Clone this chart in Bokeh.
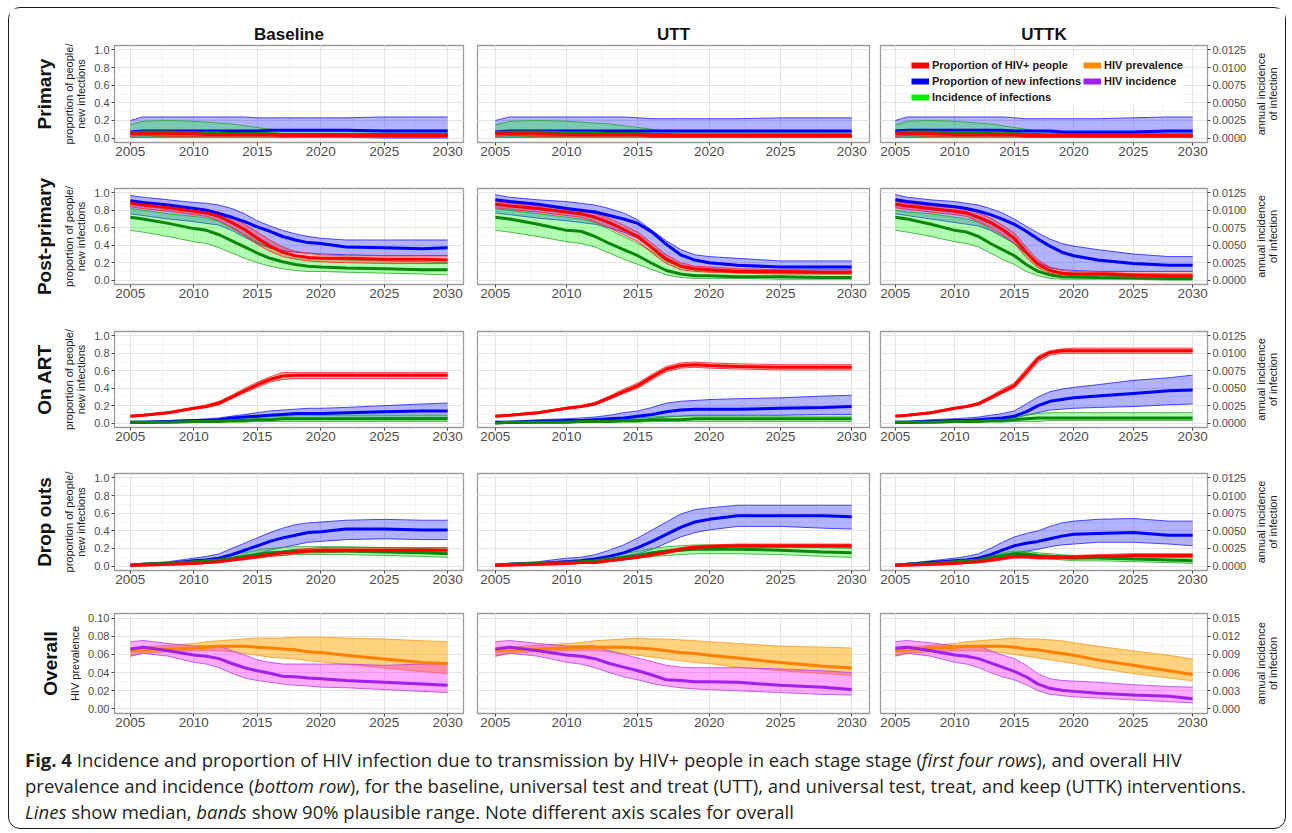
import math
from bokeh.plotting import figure
from bokeh.models import (Range1d, LinearAxis, Title, Legend, LegendItem, Div, Label,
                          FixedTicker, PrintfTickFormatter, Grid)
from bokeh.layouts import column, row
from bokeh.embed import file_html
from bokeh.resources import INLINE

# ---------------------------------------------------------------- data
years = [2005, 2006, 2008, 2010, 2011, 2012, 2013, 2014, 2015, 2016, 2017, 2018, 2019, 2020, 2022, 2025, 2028, 2030]

scenarios = ["Baseline", "UTT", "UTTK"]
stages = ["Primary", "Post-primary", "On ART", "Drop outs", "Overall"]

year_ticks = [2005, 2010, 2015, 2020, 2025, 2030]
year_minor = [2007.5, 2012.5, 2017.5, 2022.5, 2027.5]
prop_ticks = [0.0, 0.2, 0.4, 0.6, 0.8, 1.0]
prop_minor = [0.1, 0.3, 0.5, 0.7, 0.9]
inc_ticks = [0.0, 0.0025, 0.005, 0.0075, 0.01, 0.0125]
prev_ticks = [0.0, 0.02, 0.04, 0.06, 0.08, 0.10]
prev_minor = [0.01, 0.03, 0.05, 0.07, 0.09]
ov_inc_ticks = [0.0, 0.003, 0.006, 0.009, 0.012, 0.015]

# --- Primary: proportion of HIV+ people (red), proportion of new infections (blue), incidence (green)
pri_base_red_lo  = [0.02,0.03,0.02,0.02,0.02,0.02,0.02,0.02,0.02,0.02,0.02,0.02,0.02,0.02,0.02,0.01,0.01,0.01]
pri_base_red_med = [0.05,0.05,0.05,0.05,0.04,0.04,0.04,0.04,0.04,0.04,0.03,0.03,0.03,0.03,0.03,0.03,0.03,0.03]
pri_base_red_hi  = [0.07,0.07,0.07,0.06,0.06,0.06,0.06,0.06,0.05,0.05,0.05,0.05,0.05,0.05,0.05,0.05,0.05,0.05]
pri_base_blue_lo  = [0.01,0.01,0.01,0.01,0.01,0.01,0.01,0.01,0.01,0.01,0.01,0.01,0.01,0.01,0.01,0.0,0.0,0.0]
pri_base_blue_med = [0.07,0.08,0.08,0.08,0.08,0.08,0.08,0.08,0.08,0.09,0.09,0.09,0.09,0.09,0.09,0.08,0.08,0.08]
pri_base_blue_hi  = [0.20,0.24,0.24,0.24,0.24,0.24,0.24,0.24,0.23,0.23,0.23,0.23,0.23,0.23,0.23,0.24,0.24,0.24]
pri_base_inc_lo  = [0.00013,0.00013,0.00025,0.00025,0.00025,0.00025,0.00025,0.00025,0.00025,0.00025,0.00013,0.00013,0.00013,0.00013,0.00013,0.00013,0.00013,0.00013]
pri_base_inc_med = [0.00075,0.00088,0.00088,0.00075,0.00075,0.00075,0.00063,0.00063,0.00063,0.00063,0.0005,0.0005,0.0005,0.0005,0.0005,0.0005,0.0005,0.0005]
pri_base_inc_hi  = [0.00188,0.00238,0.0025,0.00238,0.00225,0.00213,0.002,0.00175,0.0015,0.00125,0.00113,0.00113,0.00113,0.00113,0.00113,0.00113,0.00113,0.00113]

pri_utt_red_lo  = [0.02,0.03,0.02,0.02,0.02,0.02,0.02,0.02,0.02,0.01,0.01,0.01,0.01,0.01,0.01,0.01,0.01,0.01]
pri_utt_red_med = [0.05,0.05,0.05,0.04,0.04,0.04,0.04,0.04,0.04,0.03,0.03,0.03,0.03,0.03,0.03,0.03,0.03,0.03]
pri_utt_red_hi  = [0.07,0.07,0.07,0.06,0.06,0.06,0.06,0.06,0.06,0.05,0.05,0.05,0.05,0.05,0.05,0.05,0.05,0.05]
pri_utt_blue_lo  = [0.01,0.01,0.01,0.01,0.01,0.01,0.01,0.01,0.01,0.01,0.01,0.01,0.01,0.01,0.01,0.01,0.01,0.01]
pri_utt_blue_med = [0.07,0.08,0.08,0.08,0.08,0.08,0.08,0.08,0.08,0.08,0.08,0.08,0.08,0.08,0.08,0.08,0.08,0.08]
pri_utt_blue_hi  = [0.20,0.24,0.24,0.24,0.24,0.24,0.24,0.24,0.23,0.22,0.22,0.22,0.22,0.22,0.22,0.23,0.23,0.23]
pri_utt_inc_lo  = [0.00013,0.00013,0.00025,0.00025,0.00025,0.00025,0.00025,0.00025,0.00025,0.00013,0.00013,0.00013,0.00013,0.00013,0.00013,0.00013,0.00013,0.00013]
pri_utt_inc_med = [0.00075,0.00088,0.00088,0.00075,0.00075,0.00075,0.00063,0.00063,0.00063,0.0005,0.0005,0.00038,0.00038,0.00038,0.00038,0.00038,0.00038,0.00038]
pri_utt_inc_hi  = [0.00188,0.00238,0.0025,0.00238,0.00225,0.00213,0.002,0.00175,0.0015,0.00125,0.001,0.00088,0.00088,0.00088,0.00088,0.00088,0.00088,0.00088]

pri_uttk_red_lo  = [0.02,0.03,0.02,0.02,0.02,0.02,0.02,0.02,0.02,0.01,0.01,0.01,0.01,0.01,0.01,0.01,0.01,0.01]
pri_uttk_red_med = [0.05,0.05,0.05,0.04,0.04,0.04,0.04,0.04,0.04,0.03,0.03,0.03,0.03,0.03,0.03,0.03,0.03,0.03]
pri_uttk_red_hi  = [0.07,0.07,0.07,0.06,0.06,0.06,0.06,0.06,0.06,0.05,0.05,0.05,0.05,0.05,0.05,0.05,0.05,0.05]
pri_uttk_blue_lo  = [0.01,0.01,0.01,0.01,0.01,0.01,0.01,0.01,0.01,0.01,0.01,0.01,0.01,0.01,0.01,0.01,0.01,0.01]
pri_uttk_blue_med = [0.08,0.09,0.09,0.09,0.09,0.09,0.09,0.09,0.08,0.08,0.08,0.08,0.07,0.07,0.07,0.07,0.08,0.08]
pri_uttk_blue_hi  = [0.20,0.24,0.24,0.24,0.24,0.24,0.24,0.24,0.23,0.22,0.22,0.22,0.22,0.22,0.22,0.23,0.24,0.24]
pri_uttk_inc_lo  = [0.00013,0.00013,0.00025,0.00025,0.00025,0.00025,0.00025,0.00025,0.00025,0.00013,0.00013,0.00013,0.00013,0.00013,0.00013,0.00013,0.00013,0.00013]
pri_uttk_inc_med = [0.00075,0.00088,0.00088,0.00075,0.00075,0.00075,0.00063,0.00063,0.00063,0.0005,0.0005,0.00038,0.00038,0.00038,0.00038,0.00038,0.00038,0.00038]
pri_uttk_inc_hi  = [0.00188,0.00238,0.0025,0.00238,0.00225,0.00213,0.002,0.00175,0.0015,0.00125,0.001,0.00075,0.00075,0.00063,0.00063,0.00063,0.00063,0.00063]

# --- Post-primary
pp_base_red_lo  = [0.84,0.82,0.79,0.75,0.73,0.68,0.60,0.51,0.41,0.33,0.27,0.24,0.22,0.21,0.20,0.19,0.19,0.19]
pp_base_red_med = [0.88,0.86,0.83,0.79,0.77,0.73,0.66,0.58,0.48,0.39,0.32,0.28,0.26,0.25,0.25,0.24,0.24,0.23]
pp_base_red_hi  = [0.91,0.89,0.86,0.83,0.81,0.78,0.72,0.64,0.55,0.46,0.38,0.33,0.31,0.29,0.28,0.28,0.28,0.28]
pp_base_blue_lo  = [0.76,0.74,0.70,0.67,0.65,0.63,0.57,0.49,0.42,0.37,0.34,0.32,0.31,0.30,0.29,0.28,0.28,0.28]
pp_base_blue_med = [0.91,0.89,0.86,0.82,0.80,0.76,0.72,0.67,0.61,0.56,0.50,0.46,0.43,0.42,0.38,0.37,0.36,0.37]
pp_base_blue_hi  = [0.97,0.95,0.92,0.89,0.88,0.86,0.82,0.76,0.68,0.62,0.57,0.53,0.50,0.48,0.46,0.46,0.46,0.46]
pp_base_inc_lo  = [0.00713,0.00688,0.00625,0.0055,0.00525,0.00463,0.00388,0.00313,0.0025,0.002,0.00163,0.00138,0.00125,0.00125,0.00113,0.001,0.00088,0.00075]
pp_base_inc_med = [0.009,0.00875,0.00813,0.00738,0.00713,0.0065,0.00563,0.00475,0.00388,0.00313,0.00263,0.00225,0.002,0.00188,0.00175,0.00163,0.0015,0.0015]
pp_base_inc_hi  = [0.01025,0.01,0.0095,0.00913,0.00888,0.00838,0.0075,0.0065,0.0055,0.00463,0.004,0.0035,0.00325,0.00313,0.00288,0.00275,0.00263,0.0025]

pp_utt_red_lo  = [0.83,0.81,0.78,0.74,0.72,0.67,0.60,0.52,0.44,0.31,0.19,0.12,0.10,0.09,0.08,0.07,0.07,0.07]
pp_utt_red_med = [0.87,0.85,0.82,0.78,0.76,0.72,0.66,0.58,0.50,0.37,0.24,0.16,0.13,0.12,0.10,0.10,0.09,0.09]
pp_utt_red_hi  = [0.90,0.88,0.85,0.82,0.80,0.76,0.71,0.63,0.55,0.42,0.29,0.20,0.16,0.15,0.13,0.12,0.12,0.12]
pp_utt_blue_lo  = [0.77,0.75,0.71,0.68,0.66,0.64,0.60,0.55,0.48,0.36,0.22,0.15,0.12,0.11,0.10,0.09,0.09,0.09]
pp_utt_blue_med = [0.92,0.90,0.87,0.82,0.80,0.78,0.74,0.70,0.65,0.55,0.41,0.29,0.23,0.20,0.17,0.15,0.15,0.15]
pp_utt_blue_hi  = [0.98,0.95,0.92,0.90,0.88,0.86,0.82,0.77,0.69,0.57,0.45,0.35,0.29,0.27,0.25,0.22,0.22,0.22]
pp_utt_inc_lo  = [0.00713,0.00688,0.00625,0.0055,0.00525,0.00475,0.00388,0.003,0.00225,0.0015,0.00075,0.00038,0.00025,0.00025,0.00025,0.00013,0.00013,0.00013]
pp_utt_inc_med = [0.009,0.00875,0.008,0.00713,0.007,0.00625,0.00525,0.00438,0.0035,0.00238,0.00138,0.00088,0.00063,0.00063,0.0005,0.0005,0.00038,0.00038]
pp_utt_inc_hi  = [0.01025,0.01,0.0095,0.009,0.00875,0.00825,0.00725,0.00625,0.00525,0.00413,0.00275,0.00188,0.0015,0.00125,0.00113,0.001,0.00088,0.00088]

pp_uttk_red_lo  = [0.83,0.81,0.78,0.75,0.73,0.67,0.60,0.52,0.42,0.26,0.14,0.08,0.06,0.05,0.05,0.04,0.03,0.03]
pp_uttk_red_med = [0.87,0.85,0.82,0.79,0.77,0.72,0.66,0.58,0.48,0.32,0.18,0.11,0.08,0.07,0.07,0.06,0.05,0.05]
pp_uttk_red_hi  = [0.90,0.88,0.85,0.83,0.81,0.77,0.71,0.63,0.54,0.38,0.23,0.15,0.11,0.10,0.09,0.08,0.08,0.08]
pp_uttk_blue_lo  = [0.76,0.74,0.70,0.66,0.64,0.62,0.57,0.50,0.42,0.30,0.20,0.14,0.12,0.11,0.10,0.10,0.10,0.10]
pp_uttk_blue_med = [0.92,0.90,0.87,0.84,0.82,0.79,0.75,0.70,0.64,0.56,0.47,0.39,0.32,0.28,0.23,0.19,0.17,0.17]
pp_uttk_blue_hi  = [0.98,0.95,0.92,0.90,0.88,0.86,0.82,0.77,0.70,0.62,0.54,0.47,0.42,0.39,0.35,0.30,0.27,0.27]
pp_uttk_inc_lo  = [0.00713,0.00688,0.00625,0.0055,0.00525,0.00475,0.00388,0.003,0.00225,0.00125,0.00063,0.00025,0.00013,0.00013,0.00013,0.00013,0.0,0.0]
pp_uttk_inc_med = [0.009,0.00875,0.008,0.00713,0.00688,0.00625,0.00525,0.00438,0.0035,0.00225,0.00125,0.00075,0.0005,0.00044,0.00038,0.00031,0.00025,0.00025]
pp_uttk_inc_hi  = [0.01,0.00975,0.0095,0.009,0.00875,0.00825,0.00725,0.00625,0.00525,0.00375,0.00225,0.0015,0.00113,0.001,0.00088,0.00075,0.00063,0.00063]

# --- On ART
art_base_red_lo  = [0.07,0.08,0.11,0.16,0.18,0.21,0.28,0.35,0.41,0.47,0.50,0.51,0.51,0.51,0.51,0.51,0.51,0.51]
art_base_red_med = [0.08,0.09,0.12,0.17,0.19,0.23,0.30,0.37,0.44,0.50,0.54,0.55,0.55,0.55,0.55,0.55,0.55,0.55]
art_base_red_hi  = [0.09,0.10,0.13,0.18,0.21,0.25,0.32,0.40,0.47,0.53,0.58,0.58,0.58,0.58,0.58,0.58,0.58,0.58]
art_base_blue_lo  = [0.00,0.00,0.01,0.01,0.01,0.02,0.02,0.03,0.03,0.04,0.04,0.05,0.05,0.05,0.05,0.06,0.06,0.06]
art_base_blue_med = [0.01,0.01,0.02,0.03,0.03,0.04,0.06,0.07,0.08,0.09,0.10,0.11,0.11,0.11,0.12,0.13,0.14,0.14]
art_base_blue_hi  = [0.02,0.02,0.03,0.04,0.05,0.06,0.08,0.10,0.12,0.14,0.15,0.16,0.17,0.17,0.18,0.20,0.22,0.23]
art_base_inc_lo  = [0.0,0.0,0.0,0.00013,0.00013,0.00013,0.00013,0.00013,0.00025,0.00025,0.00025,0.00025,0.00025,0.00025,0.00025,0.00025,0.00025,0.00025]
art_base_inc_med = [0.00013,0.00013,0.00013,0.00025,0.00025,0.00025,0.00038,0.00038,0.0005,0.0005,0.00063,0.00063,0.00063,0.00063,0.00063,0.00063,0.00063,0.00063]
art_base_inc_hi  = [0.00025,0.00025,0.00025,0.00038,0.00038,0.0005,0.00063,0.00075,0.00088,0.001,0.001,0.00113,0.00113,0.00113,0.00113,0.00113,0.00113,0.00113]

art_utt_red_lo  = [0.07,0.08,0.11,0.16,0.18,0.21,0.27,0.34,0.40,0.50,0.59,0.63,0.64,0.63,0.62,0.61,0.61,0.61]
art_utt_red_med = [0.08,0.09,0.12,0.17,0.19,0.22,0.29,0.36,0.43,0.53,0.62,0.66,0.67,0.66,0.65,0.64,0.64,0.64]
art_utt_red_hi  = [0.09,0.10,0.13,0.18,0.20,0.24,0.31,0.39,0.46,0.56,0.65,0.69,0.70,0.69,0.68,0.67,0.67,0.67]
art_utt_blue_lo  = [0.00,0.00,0.01,0.01,0.01,0.02,0.02,0.03,0.03,0.05,0.07,0.08,0.09,0.09,0.09,0.09,0.10,0.10]
art_utt_blue_med = [0.01,0.01,0.02,0.03,0.03,0.04,0.05,0.06,0.08,0.10,0.13,0.15,0.16,0.16,0.16,0.17,0.18,0.19]
art_utt_blue_hi  = [0.02,0.02,0.04,0.05,0.06,0.07,0.09,0.12,0.14,0.18,0.23,0.25,0.26,0.27,0.28,0.29,0.31,0.32]
art_utt_inc_lo  = [0.0,0.0,0.0,0.0,0.00013,0.00013,0.00013,0.00013,0.00013,0.00025,0.00025,0.00025,0.00025,0.00025,0.00025,0.00025,0.00025,0.00025]
art_utt_inc_med = [0.0,0.00013,0.00013,0.00013,0.00025,0.00025,0.00025,0.00038,0.00038,0.0005,0.0005,0.0005,0.00063,0.00063,0.00063,0.00063,0.00063,0.00063]
art_utt_inc_hi  = [0.00013,0.00025,0.00025,0.00038,0.00038,0.0005,0.0005,0.00063,0.00075,0.00088,0.001,0.001,0.001,0.001,0.001,0.001,0.001,0.001]

art_uttk_red_lo  = [0.07,0.08,0.11,0.16,0.18,0.21,0.27,0.34,0.40,0.54,0.70,0.78,0.80,0.80,0.80,0.80,0.80,0.80]
art_uttk_red_med = [0.08,0.09,0.12,0.17,0.19,0.22,0.29,0.36,0.43,0.58,0.74,0.81,0.83,0.83,0.83,0.83,0.83,0.83]
art_uttk_red_hi  = [0.09,0.10,0.13,0.18,0.20,0.24,0.31,0.39,0.46,0.62,0.77,0.83,0.85,0.86,0.86,0.86,0.86,0.86]
art_uttk_blue_lo  = [0.00,0.00,0.01,0.02,0.02,0.03,0.03,0.04,0.06,0.09,0.12,0.15,0.16,0.17,0.18,0.19,0.21,0.22]
art_uttk_blue_med = [0.01,0.01,0.02,0.03,0.03,0.04,0.05,0.06,0.08,0.13,0.20,0.25,0.27,0.29,0.31,0.34,0.37,0.38]
art_uttk_blue_hi  = [0.02,0.02,0.04,0.05,0.06,0.07,0.09,0.11,0.14,0.22,0.30,0.36,0.39,0.41,0.44,0.49,0.52,0.55]
art_uttk_inc_lo  = [0.0,0.0,0.0,0.00013,0.00013,0.00013,0.00013,0.00013,0.00025,0.00025,0.00025,0.00038,0.00038,0.00038,0.00038,0.00038,0.00038,0.00038]
art_uttk_inc_med = [0.00013,0.00013,0.00013,0.00025,0.00025,0.00025,0.00038,0.00038,0.0005,0.00063,0.00075,0.00075,0.00075,0.00075,0.00075,0.00075,0.00075,0.00075]
art_uttk_inc_hi  = [0.00025,0.00025,0.00025,0.00038,0.00038,0.0005,0.00063,0.00075,0.00088,0.00113,0.00138,0.0015,0.0015,0.0015,0.0015,0.0015,0.0015,0.0015]

# --- Drop outs
do_base_red_lo  = [0.00,0.01,0.01,0.02,0.03,0.04,0.06,0.07,0.09,0.11,0.12,0.14,0.15,0.15,0.16,0.16,0.16,0.15]
do_base_red_med = [0.01,0.01,0.02,0.03,0.04,0.05,0.07,0.09,0.11,0.13,0.15,0.16,0.17,0.18,0.18,0.18,0.18,0.18]
do_base_red_hi  = [0.02,0.02,0.03,0.04,0.05,0.06,0.09,0.11,0.13,0.15,0.17,0.19,0.20,0.21,0.21,0.21,0.21,0.21]
do_base_blue_lo  = [0.01,0.01,0.02,0.04,0.05,0.06,0.08,0.11,0.14,0.18,0.21,0.24,0.27,0.28,0.30,0.31,0.30,0.30]
do_base_blue_med = [0.01,0.02,0.03,0.06,0.07,0.09,0.13,0.18,0.23,0.28,0.32,0.35,0.38,0.39,0.42,0.42,0.41,0.41]
do_base_blue_hi  = [0.02,0.03,0.05,0.09,0.11,0.14,0.20,0.26,0.32,0.38,0.43,0.47,0.49,0.50,0.52,0.53,0.52,0.52]
do_base_inc_lo  = [0.00013,0.00013,0.00025,0.00038,0.0005,0.00063,0.00075,0.001,0.00113,0.00138,0.0015,0.00163,0.00163,0.00163,0.00163,0.0015,0.00138,0.00125]
do_base_inc_med = [0.00013,0.00025,0.00038,0.00063,0.00075,0.00088,0.00113,0.00138,0.00163,0.00188,0.002,0.00213,0.00213,0.00213,0.00213,0.002,0.00188,0.00175]
do_base_inc_hi  = [0.00025,0.00038,0.0005,0.00088,0.001,0.00125,0.00163,0.00188,0.00225,0.0025,0.00263,0.00275,0.00275,0.00275,0.00275,0.00263,0.0025,0.00238]

do_utt_red_lo  = [0.00,0.01,0.01,0.02,0.03,0.03,0.05,0.07,0.09,0.11,0.14,0.17,0.19,0.20,0.21,0.21,0.21,0.21]
do_utt_red_med = [0.01,0.01,0.02,0.03,0.04,0.04,0.06,0.08,0.10,0.13,0.16,0.19,0.21,0.22,0.23,0.23,0.23,0.23]
do_utt_red_hi  = [0.02,0.02,0.03,0.04,0.05,0.06,0.08,0.10,0.12,0.15,0.18,0.21,0.23,0.24,0.25,0.25,0.25,0.25]
do_utt_blue_lo  = [0.01,0.01,0.02,0.04,0.05,0.06,0.08,0.11,0.14,0.19,0.26,0.33,0.38,0.41,0.45,0.45,0.43,0.42]
do_utt_blue_med = [0.01,0.02,0.03,0.05,0.06,0.08,0.11,0.15,0.21,0.28,0.36,0.44,0.50,0.53,0.57,0.57,0.57,0.56]
do_utt_blue_hi  = [0.02,0.03,0.05,0.09,0.10,0.13,0.18,0.24,0.32,0.41,0.50,0.59,0.64,0.66,0.69,0.69,0.69,0.69]
do_utt_inc_lo  = [0.00013,0.00013,0.00025,0.00038,0.0005,0.00063,0.00075,0.00088,0.00113,0.00138,0.0015,0.00163,0.00175,0.00175,0.00175,0.00163,0.00138,0.00125]
do_utt_inc_med = [0.00013,0.00025,0.00038,0.0005,0.00063,0.00075,0.001,0.00125,0.0015,0.00188,0.00213,0.00225,0.00238,0.00238,0.00238,0.00225,0.002,0.00188]
do_utt_inc_hi  = [0.00025,0.00038,0.0005,0.00075,0.00088,0.00113,0.0015,0.00175,0.00213,0.0025,0.00275,0.00288,0.003,0.003,0.003,0.00288,0.00263,0.0025]

do_uttk_red_lo  = [0.00,0.01,0.01,0.02,0.03,0.04,0.05,0.07,0.09,0.09,0.08,0.08,0.08,0.08,0.09,0.10,0.10,0.10]
do_uttk_red_med = [0.01,0.01,0.02,0.03,0.04,0.05,0.07,0.09,0.11,0.11,0.10,0.10,0.10,0.10,0.11,0.12,0.12,0.12]
do_uttk_red_hi  = [0.02,0.02,0.03,0.04,0.05,0.06,0.09,0.11,0.13,0.13,0.12,0.12,0.12,0.12,0.13,0.14,0.14,0.14]
do_uttk_blue_lo  = [0.01,0.01,0.02,0.04,0.05,0.06,0.08,0.12,0.15,0.17,0.19,0.22,0.24,0.25,0.27,0.27,0.25,0.23]
do_uttk_blue_med = [0.01,0.02,0.04,0.06,0.07,0.09,0.13,0.18,0.23,0.26,0.28,0.31,0.34,0.36,0.37,0.38,0.35,0.35]
do_uttk_blue_hi  = [0.02,0.03,0.06,0.09,0.11,0.14,0.20,0.27,0.33,0.37,0.40,0.45,0.49,0.51,0.53,0.54,0.51,0.51]
do_uttk_inc_lo  = [0.00013,0.00013,0.00025,0.00038,0.0005,0.00063,0.00088,0.00113,0.00138,0.00138,0.00113,0.001,0.00088,0.00075,0.00075,0.00063,0.0005,0.00038]
do_uttk_inc_med = [0.00013,0.00025,0.00038,0.00063,0.00075,0.00088,0.00125,0.0015,0.00175,0.00175,0.0015,0.00138,0.00125,0.00113,0.00113,0.001,0.00088,0.00075]
do_uttk_inc_hi  = [0.00025,0.00038,0.0005,0.00088,0.001,0.00125,0.00163,0.00188,0.00213,0.00213,0.00188,0.00175,0.00163,0.0015,0.0015,0.00138,0.00125,0.00113]

# --- Overall: HIV prevalence (orange, left axis) and HIV incidence (purple, right axis)
ov_base_prev_lo  = [0.058,0.061,0.063,0.064,0.064,0.064,0.063,0.061,0.059,0.057,0.056,0.055,0.053,0.052,0.049,0.045,0.041,0.039]
ov_base_prev_med = [0.064,0.065,0.066,0.067,0.068,0.069,0.069,0.069,0.068,0.067,0.066,0.065,0.063,0.062,0.059,0.055,0.051,0.050]
ov_base_prev_hi  = [0.066,0.068,0.070,0.072,0.074,0.075,0.076,0.077,0.078,0.078,0.078,0.079,0.079,0.079,0.078,0.077,0.075,0.074]
ov_base_inc_lo  = [0.0087,0.0092,0.0087,0.0077,0.0074,0.0068,0.0059,0.0051,0.0047,0.0044,0.0041,0.0039,0.0038,0.0036,0.0035,0.0032,0.0029,0.0027]
ov_base_inc_med = [0.0099,0.0102,0.0096,0.0089,0.0087,0.0083,0.0075,0.0068,0.0063,0.0059,0.0054,0.0053,0.0051,0.0050,0.0047,0.0044,0.0041,0.0039]
ov_base_inc_hi  = [0.0111,0.0113,0.0108,0.0104,0.0104,0.0104,0.0096,0.0089,0.0081,0.0077,0.0074,0.0074,0.0074,0.0074,0.0074,0.0072,0.0074,0.0075]

ov_utt_prev_lo  = [0.058,0.061,0.063,0.064,0.064,0.064,0.063,0.061,0.059,0.057,0.055,0.053,0.051,0.050,0.046,0.042,0.039,0.037]
ov_utt_prev_med = [0.064,0.065,0.066,0.067,0.068,0.068,0.068,0.068,0.067,0.066,0.064,0.062,0.061,0.059,0.056,0.051,0.047,0.045]
ov_utt_prev_hi  = [0.066,0.068,0.070,0.072,0.073,0.075,0.076,0.077,0.078,0.077,0.077,0.076,0.075,0.074,0.072,0.069,0.068,0.067]
ov_utt_inc_lo  = [0.0087,0.0092,0.0087,0.0077,0.0074,0.0068,0.0060,0.0053,0.0048,0.0042,0.0038,0.0035,0.0033,0.0032,0.0030,0.0027,0.0024,0.0023]
ov_utt_inc_med = [0.0099,0.0102,0.0096,0.0089,0.0087,0.0083,0.0075,0.0069,0.0063,0.0056,0.0048,0.0047,0.0045,0.0045,0.0044,0.0039,0.0036,0.0032]
ov_utt_inc_hi  = [0.0111,0.0113,0.0108,0.0104,0.0104,0.0104,0.0096,0.0090,0.0084,0.0078,0.0072,0.0069,0.0068,0.0068,0.0068,0.0066,0.0063,0.0060]

ov_uttk_prev_lo  = [0.058,0.061,0.063,0.064,0.064,0.064,0.063,0.062,0.060,0.058,0.056,0.054,0.052,0.050,0.045,0.039,0.034,0.031]
ov_uttk_prev_med = [0.064,0.065,0.067,0.068,0.069,0.069,0.069,0.069,0.068,0.066,0.065,0.063,0.061,0.059,0.054,0.048,0.042,0.038]
ov_uttk_prev_hi  = [0.066,0.068,0.070,0.072,0.074,0.075,0.076,0.077,0.078,0.077,0.077,0.076,0.075,0.073,0.069,0.064,0.059,0.055]
ov_uttk_inc_lo  = [0.0088,0.0092,0.0087,0.0077,0.0074,0.0068,0.0060,0.0053,0.0048,0.0040,0.0030,0.0024,0.0022,0.0020,0.0018,0.0015,0.0012,0.0010]
ov_uttk_inc_med = [0.0100,0.0102,0.0096,0.0089,0.0087,0.0083,0.0076,0.0069,0.0062,0.0053,0.0041,0.0034,0.0031,0.0029,0.0026,0.0023,0.0021,0.0017]
ov_uttk_inc_hi  = [0.0111,0.0113,0.0109,0.0104,0.0104,0.0104,0.0096,0.0089,0.0083,0.0072,0.0058,0.0050,0.0047,0.0046,0.0044,0.0040,0.0037,0.0036]

legend_labels = ["Proportion of HIV+ people", "Proportion of new infections", "Incidence of infections",
                 "HIV prevalence", "HIV incidence"]
right_axis_title = "annual incidence\nof infection"

# ---------------------------------------------------------------- styling
FONT = "Liberation Sans"
C = {
    "red":    dict(line="#ff0000", fill="#ff0000", alpha=0.30, edge="#ff2020"),
    "blue":   dict(line="#0000ff", fill="#0000ff", alpha=0.30, edge="#2020ff"),
    "green":  dict(line="#0c870c", fill="#00ff00", alpha=0.30, edge="#22aa22"),
    "orange": dict(line="#ff7f00", fill="#ffa500", alpha=0.50, edge="#f29a1a"),
    "purple": dict(line="#a020f0", fill="#ff00ff", alpha=0.33, edge="#b040e8"),
}
legend_colors = ["#ff0000", "#0000ff", "#00ee00", "#ff8c00", "#a020f0"]

COL_W = [349, 392, 327]
COL_BL = [105, 7, 7]
COL_BR = [7, 4, 45]
TITLE_STRIP_W = 33
ROW_H = [97, 96, 96, 97, 100]
ROW_BT = [37, 22, 22, 22, 21]
ROW_BB = [24, 25, 24, 22, 24]

stage_data = {
    0: [(pri_base_red_lo, pri_base_red_med, pri_base_red_hi, pri_base_blue_lo, pri_base_blue_med, pri_base_blue_hi, pri_base_inc_lo, pri_base_inc_med, pri_base_inc_hi),
        (pri_utt_red_lo, pri_utt_red_med, pri_utt_red_hi, pri_utt_blue_lo, pri_utt_blue_med, pri_utt_blue_hi, pri_utt_inc_lo, pri_utt_inc_med, pri_utt_inc_hi),
        (pri_uttk_red_lo, pri_uttk_red_med, pri_uttk_red_hi, pri_uttk_blue_lo, pri_uttk_blue_med, pri_uttk_blue_hi, pri_uttk_inc_lo, pri_uttk_inc_med, pri_uttk_inc_hi)],
    1: [(pp_base_red_lo, pp_base_red_med, pp_base_red_hi, pp_base_blue_lo, pp_base_blue_med, pp_base_blue_hi, pp_base_inc_lo, pp_base_inc_med, pp_base_inc_hi),
        (pp_utt_red_lo, pp_utt_red_med, pp_utt_red_hi, pp_utt_blue_lo, pp_utt_blue_med, pp_utt_blue_hi, pp_utt_inc_lo, pp_utt_inc_med, pp_utt_inc_hi),
        (pp_uttk_red_lo, pp_uttk_red_med, pp_uttk_red_hi, pp_uttk_blue_lo, pp_uttk_blue_med, pp_uttk_blue_hi, pp_uttk_inc_lo, pp_uttk_inc_med, pp_uttk_inc_hi)],
    2: [(art_base_red_lo, art_base_red_med, art_base_red_hi, art_base_blue_lo, art_base_blue_med, art_base_blue_hi, art_base_inc_lo, art_base_inc_med, art_base_inc_hi),
        (art_utt_red_lo, art_utt_red_med, art_utt_red_hi, art_utt_blue_lo, art_utt_blue_med, art_utt_blue_hi, art_utt_inc_lo, art_utt_inc_med, art_utt_inc_hi),
        (art_uttk_red_lo, art_uttk_red_med, art_uttk_red_hi, art_uttk_blue_lo, art_uttk_blue_med, art_uttk_blue_hi, art_uttk_inc_lo, art_uttk_inc_med, art_uttk_inc_hi)],
    3: [(do_base_red_lo, do_base_red_med, do_base_red_hi, do_base_blue_lo, do_base_blue_med, do_base_blue_hi, do_base_inc_lo, do_base_inc_med, do_base_inc_hi),
        (do_utt_red_lo, do_utt_red_med, do_utt_red_hi, do_utt_blue_lo, do_utt_blue_med, do_utt_blue_hi, do_utt_inc_lo, do_utt_inc_med, do_utt_inc_hi),
        (do_uttk_red_lo, do_uttk_red_med, do_uttk_red_hi, do_uttk_blue_lo, do_uttk_blue_med, do_uttk_blue_hi, do_uttk_inc_lo, do_uttk_inc_med, do_uttk_inc_hi)],
}
overall_data = [
    (ov_base_prev_lo, ov_base_prev_med, ov_base_prev_hi, ov_base_inc_lo, ov_base_inc_med, ov_base_inc_hi),
    (ov_utt_prev_lo, ov_utt_prev_med, ov_utt_prev_hi, ov_utt_inc_lo, ov_utt_inc_med, ov_utt_inc_hi),
    (ov_uttk_prev_lo, ov_uttk_prev_med, ov_uttk_prev_hi, ov_uttk_inc_lo, ov_uttk_inc_med, ov_uttk_inc_hi),
]


def band(p, lo, med, hi, key, rname="default"):
    c = C[key]
    p.varea(x=years, y1=lo, y2=hi, fill_color=c["fill"], fill_alpha=c["alpha"], y_range_name=rname)
    p.line(years, lo, line_color=c["edge"], line_width=0.8, y_range_name=rname)
    p.line(years, hi, line_color=c["edge"], line_width=0.8, y_range_name=rname)


def median(p, med, key, rname="default"):
    p.line(years, med, line_color=C[key]["line"], line_width=3, y_range_name=rname)


def style_axis(ax, size):
    ax.axis_line_color = None
    ax.major_tick_in = 0
    ax.major_tick_out = 3
    ax.major_tick_line_color = "#444444"
    ax.minor_tick_line_color = None
    ax.major_label_text_font = FONT
    ax.major_label_text_font_size = size
    ax.major_label_text_color = "#4d4d4d"
    ax.axis_label_text_font = FONT
    ax.axis_label_text_font_size = "11px"
    ax.axis_label_text_font_style = "normal"
    ax.axis_label_text_color = "#1a1a1a"
    ax.axis_label_text_line_height = 1.0


def make_panel(r, c):
    overall = (r == 4)
    if overall:
        yr = Range1d(-0.005, 0.105)
        er = Range1d(-0.00075, 0.01575)
        yt, ym, fmt = prev_ticks, prev_minor, "%.2f"
        et, efmt = ov_inc_ticks, "%.3f"
    else:
        yr = Range1d(-0.05, 1.05)
        er = Range1d(-0.000625, 0.013125)
        yt, ym, fmt = prop_ticks, prop_minor, "%.1f"
        et, efmt = inc_ticks, "%.4f"
    p = figure(frame_width=COL_W[c], frame_height=ROW_H[r],
               min_border_left=COL_BL[c], min_border_right=COL_BR[c],
               min_border_top=ROW_BT[r], min_border_bottom=ROW_BB[r],
               x_range=Range1d(2003.75, 2031.25), y_range=yr,
               x_axis_location=None, y_axis_location=None,
               toolbar_location=None, output_backend="svg",
               background_fill_color="white", border_fill_color="white",
               outline_line_color="#9a9a9a", outline_line_width=1.3)
    p.extra_y_ranges = {"inc": er}

    p.add_layout(Grid(dimension=0, ticker=FixedTicker(ticks=year_ticks, minor_ticks=year_minor),
                      grid_line_color="#e3e3e3", grid_line_width=1,
                      minor_grid_line_color="#f1f1f1", minor_grid_line_width=0.8))
    p.add_layout(Grid(dimension=1, ticker=FixedTicker(ticks=yt, minor_ticks=ym),
                      grid_line_color="#e3e3e3", grid_line_width=1,
                      minor_grid_line_color="#f1f1f1", minor_grid_line_width=0.8))

    xa = LinearAxis(ticker=FixedTicker(ticks=year_ticks))
    style_axis(xa, "13.5px")
    xa.major_label_standoff = 1
    p.add_layout(xa, "below")

    if c == 0:
        ya = LinearAxis(ticker=FixedTicker(ticks=yt), formatter=PrintfTickFormatter(format=fmt),
                        axis_label="HIV prevalence" if overall else "proportion of people/\nnew infections")
        style_axis(ya, "11px")
        ya.major_label_standoff = 2
        ya.axis_label_standoff = 4
        p.add_layout(ya, "left")
        p.add_layout(Title(text=stages[r], align="center", text_font=FONT, text_font_size="19px",
                           text_font_style="bold", text_color="#111111", standoff=12), "left")
    if c == 2:
        ra = LinearAxis(y_range_name="inc", ticker=FixedTicker(ticks=et),
                        formatter=PrintfTickFormatter(format=efmt))
        style_axis(ra, "11px")
        ra.major_label_standoff = 2
        p.add_layout(ra, "right")

    if r == 0:
        p.title.text = scenarios[c]
        p.title.align = "center"
        p.title.text_font = FONT
        p.title.text_font_size = "17px"
        p.title.text_font_style = "bold"
        p.title.text_color = "#111111"
        p.title.standoff = 3

    if overall:
        plo, pmed, phi, ilo, imed, ihi = overall_data[c]
        band(p, plo, pmed, phi, "orange")
        band(p, ilo, imed, ihi, "purple", "inc")
        median(p, pmed, "orange")
        median(p, imed, "purple", "inc")
    else:
        rlo, rmed, rhi, blo, bmed, bhi, glo, gmed, ghi = stage_data[r][c]
        band(p, blo, bmed, bhi, "blue")
        band(p, glo, gmed, ghi, "green", "inc")
        band(p, rlo, rmed, rhi, "red")
        median(p, bmed, "blue")
        median(p, gmed, "green", "inc")
        median(p, rmed, "red")

    if r == 0 and c == 2:
        items = []
        for lab, col in zip(legend_labels, legend_colors):
            # a single missing point: the renderer exists only to give the legend its key
            rr = p.line(x=[float("nan")], y=[float("nan")], line_color=col, line_width=6)
            items.append(LegendItem(label=lab, renderers=[rr]))
        leg = Legend(items=items, location=(31, 38), orientation="vertical", nrows=3,
                     label_text_font=FONT, label_text_font_size="11px", label_text_font_style="bold",
                     label_text_color="#1a1a1a", label_height=14, label_standoff=3,
                     glyph_width=18, glyph_height=14, spacing=2, padding=3, margin=0,
                     background_fill_color="white", background_fill_alpha=1.0,
                     border_line_color=None)
        p.add_layout(leg)
    return p


def right_title_strip(r):
    # narrow strip holding the right-hand axis title, rotated to read bottom-to-top
    s = figure(frame_width=TITLE_STRIP_W, frame_height=ROW_H[r],
               min_border_left=0, min_border_right=0,
               min_border_top=ROW_BT[r], min_border_bottom=ROW_BB[r],
               x_range=Range1d(0, 1), y_range=Range1d(0, 1),
               x_axis_location=None, y_axis_location=None,
               toolbar_location=None, output_backend="svg",
               background_fill_color="white", border_fill_color="white",
               outline_line_color=None)
    s.xgrid.visible = False
    s.ygrid.visible = False
    s.add_layout(Label(x=0.45, y=0.5, text=right_axis_title, angle=math.pi / 2,
                       text_align="center", text_baseline="middle",
                       text_font=FONT, text_font_size="11px", text_color="#1a1a1a",
                       text_line_height=1.0))
    return s


rows = []
for r in range(5):
    rows.append(row(*([make_panel(r, c) for c in range(3)] + [right_title_strip(r)])))

caption_html = (
    '<div style="font-family:\'Open Sans\';font-size:18.5px;line-height:26px;color:#231f20;'
    'white-space:nowrap;padding:10px 0 0 16px;">'
    '<b>Fig. 4</b> Incidence and proportion of HIV infection due to transmission by HIV+ people in each stage stage '
    '(<i>first four rows</i>), and overall HIV<br>'
    'prevalence and incidence (<i>bottom row</i>), for the baseline, universal test and treat (UTT), '
    'and universal test, treat, and keep (UTTK) interventions.<br>'
    '<i>Lines</i> show median, <i>bands</i> show 90% plausible range. Note different axis scales for overall'
    '</div>'
)
caption = Div(text=caption_html, width=1276, height=91, margin=0)

page = column(*rows, caption,
              styles={"border": "1.6px solid #1a1a1a", "border-radius": "12px", "background": "white",
                      "margin-top": "7px", "margin-left": "8px"})

open("out.html", "w").write(file_html(page, INLINE))
